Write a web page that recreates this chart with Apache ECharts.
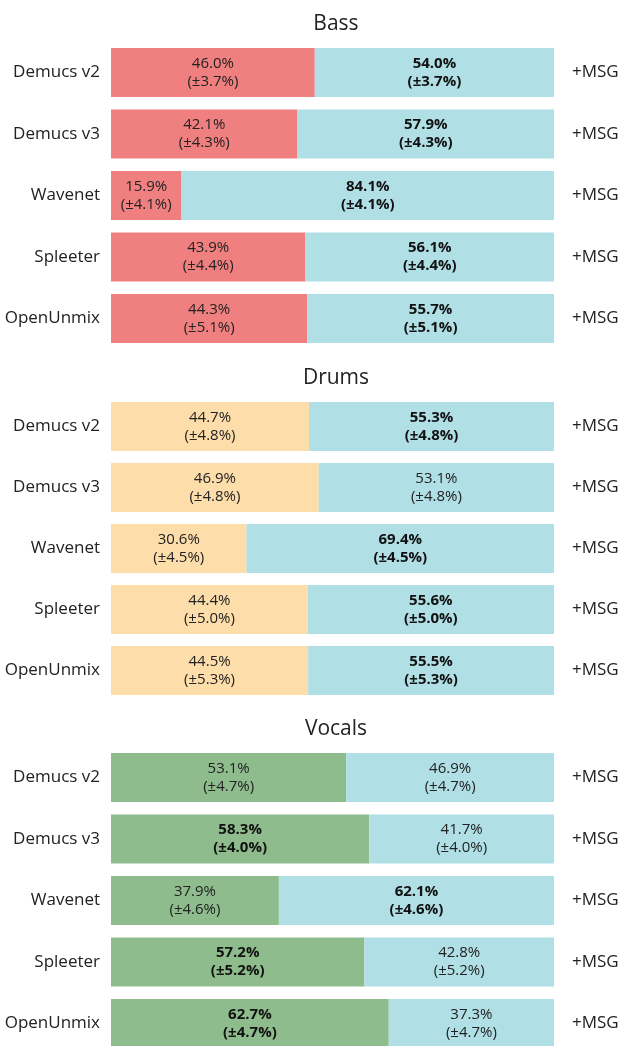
<!DOCTYPE html>
<html>
	<head>
		<meta charset="utf-8">
		<title>MSG listening test</title>
		<script src="https://cdn.jsdelivr.net/npm/echarts@6/dist/echarts.min.js"></script>
		<style>
			html, body { margin: 0; padding: 0; background: #fff; }
			#main { width: 625px; height: 1046px; }
		</style>
	</head>
	<body>
		<div id="main"></div>
		<script>
			// 数据
			var models = ['Demucs v2', 'Demucs v3', 'Wavenet', 'Spleeter', 'OpenUnmix'];
			var panels = ['Bass', 'Drums', 'Vocals'];
			var rightLabel = '+MSG';

			var bassBase = [46.0, 42.1, 15.9, 43.9, 44.3];
			var bassMsg = [54.0, 57.9, 84.1, 56.1, 55.7];
			var bassErr = [3.7, 4.3, 4.1, 4.4, 5.1];

			var drumsBase = [44.7, 46.9, 30.6, 44.4, 44.5];
			var drumsMsg = [55.3, 53.1, 69.4, 55.6, 55.5];
			var drumsErr = [4.8, 4.8, 4.5, 5.0, 5.3];

			var vocalsBase = [53.1, 58.3, 37.9, 57.2, 62.7];
			var vocalsMsg = [46.9, 41.7, 62.1, 42.8, 37.3];
			var vocalsErr = [4.7, 4.0, 4.6, 5.2, 4.7];

			var baseData = [bassBase, drumsBase, vocalsBase];
			var msgData = [bassMsg, drumsMsg, vocalsMsg];
			var errData = [bassErr, drumsErr, vocalsErr];
			var baseColors = ['#F08080', '#FDDDAA', '#8FBC8C'];
			var msgColor = '#B0DFE5';

			var font = 'Open Sans';
			// 类目轴 boundaryGap:false，grid 从第一根条的中心到最后一根条的中心
			var gridTops = [72.5, 426.5, 777.5];
			var gridHeights = [246, 244, 246];

			var title = [], grid = [], xAxis = [], yAxis = [], series = [];

			// 标签：显著 (v - err > 50) 的加粗
			function makeLabel(vals, errs) {
				return function (p) {
					var v = vals[p.dataIndex], e = errs[p.dataIndex];
					var s = (v - e > 50) ? 'b' : 'n';
					return '{' + s + '|' + v.toFixed(1) + '%}\n{' + s + '|(±' + e.toFixed(1) + '%)}';
				};
			}
			var rich = {
				n: { fontFamily: font, fontSize: 15, lineHeight: 18, color: '#222' },
				b: { fontFamily: font, fontSize: 15, lineHeight: 18, color: '#111', fontWeight: 'bold' }
			};

			for (var i = 0; i < 3; i++) {
				title.push({
					text: panels[i],
					left: 331,
					top: gridTops[i] - 24.5 - 39,
					textAlign: 'center',
					textStyle: { fontFamily: font, fontSize: 21, fontWeight: 'normal', color: '#222' }
				});
				grid.push({ left: 111, right: 71, top: gridTops[i], height: gridHeights[i] });
				xAxis.push({ type: 'value', gridIndex: i, min: 0, max: 100, show: false });
				yAxis.push({
					type: 'category', gridIndex: i, data: models, inverse: true, boundaryGap: false,
					axisLine: { show: false }, axisTick: { show: false }, splitLine: { show: false },
					axisLabel: { margin: 11, fontFamily: font, fontSize: 17, color: '#222' }
				});
				yAxis.push({
					type: 'category', gridIndex: i, data: models, inverse: true, boundaryGap: false,
					position: 'right',
					axisLine: { show: false }, axisTick: { show: false }, splitLine: { show: false },
					axisLabel: { margin: 18, fontFamily: font, fontSize: 17, color: '#222',
						formatter: function () { return rightLabel; } }
				});
				series.push({
					type: 'bar', stack: 'p' + i, xAxisIndex: i, yAxisIndex: 2 * i,
					data: baseData[i], barWidth: 49, clip: false,
					itemStyle: { color: baseColors[i] },
					label: { show: true, position: 'inside', formatter: makeLabel(baseData[i], errData[i]), rich: rich },
					silent: true
				});
				series.push({
					type: 'bar', stack: 'p' + i, xAxisIndex: i, yAxisIndex: 2 * i,
					data: msgData[i], barWidth: 49, clip: false,
					itemStyle: { color: msgColor },
					label: { show: true, position: 'inside', formatter: makeLabel(msgData[i], errData[i]), rich: rich },
					silent: true
				});
			}

			var chart = echarts.init(document.getElementById('main'));
			chart.setOption({
				animation: false,
				title: title,
				grid: grid,
				xAxis: xAxis,
				yAxis: yAxis,
				series: series
			});
		</script>
	</body>
</html>
